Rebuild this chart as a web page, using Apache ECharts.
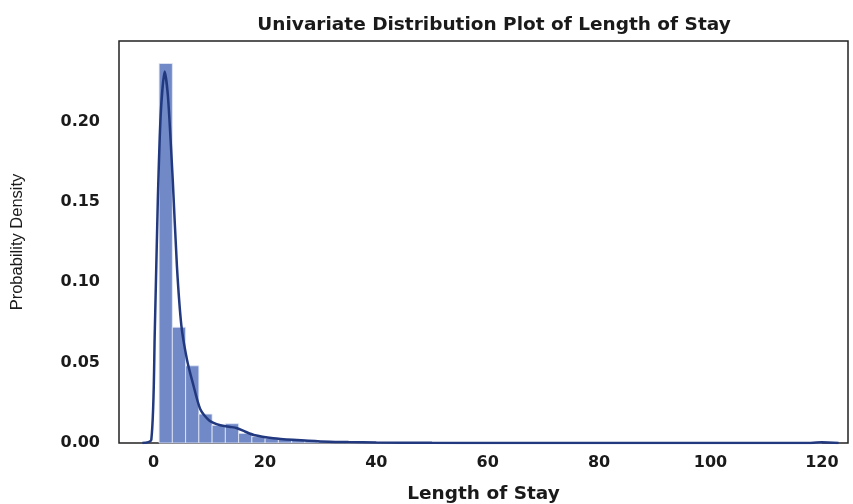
<!DOCTYPE html>
<html>
<head>
<meta charset="utf-8">
<script src="https://cdn.jsdelivr.net/npm/echarts@6/dist/echarts.min.js"></script>
<style>
  html, body { margin: 0; padding: 0; background: #fff; }
  #chart { width: 853px; height: 504px; }
</style>
</head>
<body>
<div id="chart"></div>
<script>
// histogram: 50 bins between the smallest and largest stay
const binLow = 1;
const binHigh = 120;
const densities = [
  0.236, 0.072, 0.048, 0.018, 0.011, 0.012, 0.006, 0.004, 0.003, 0.0025,
  0.002, 0.0015, 0.0012, 0.0009, 0.0007, 0.0005, 0.0004, 0.0003, 0.0002, 0.0002,
  0.0001, 0.0001, 0.0001, 0, 0, 0, 0, 0, 0, 0,
  0, 0, 0, 0, 0, 0, 0, 0, 0, 0,
  0, 0, 0, 0, 0, 0, 0, 0, 0, 0.0003
];

// kde curve
const kdeX = [-2, -0.4, 0.23, 0.77, 1.3, 2.0, 2.6, 3.46, 4.2, 5.0, 6.0, 7.0, 8.4, 10, 12,
  13.8, 15, 16.5, 18, 21.5, 25, 30, 35, 40, 50, 60, 80, 100, 117, 120, 123];
const kdeY = [0, 0.002, 0.070, 0.151, 0.205, 0.231, 0.215, 0.163, 0.11, 0.073, 0.052, 0.038, 0.021, 0.014, 0.011,
  0.0100, 0.0092, 0.007, 0.005, 0.003, 0.002, 0.001, 0.0006, 0.0003, 0.0001, 0.00005, 0, 0, 0, 0.0004, 0];

const xTicks = [0, 20, 40, 60, 80, 100, 120];
const yTicks = [0, 0.05, 0.10, 0.15, 0.20];

const binWidth = (binHigh - binLow) / densities.length;
const bins = densities.map((d, i) => [binLow + i * binWidth, binLow + (i + 1) * binWidth, d]);
const kde = kdeX.map((x, i) => [x, kdeY[i]]);

const chart = echarts.init(document.getElementById('chart'));

const option = {
  animation: false,
  title: {
    text: 'Univariate Distribution Plot of Length of Stay',
    left: 489,
    top: 11,
    textAlign: 'center',
    textStyle: { fontFamily: 'DejaVu Sans', fontSize: 18.5, fontWeight: 'bold', color: '#1a1a1a' }
  },
  grid: {
    left: 119, right: 5, top: 41, bottom: 61,
    outerBoundsMode: 'none',
    show: true, borderColor: '#222', borderWidth: 1.5
  },
  xAxis: {
    type: 'value',
    min: -6.2,
    max: 124.7,
    name: 'Length of Stay',
    nameLocation: 'middle',
    nameGap: 42,
    nameTextStyle: { fontFamily: 'DejaVu Sans', fontSize: 18.5, fontWeight: 'bold', color: '#1a1a1a' },
    axisLine: { show: false },
    axisTick: { show: false },
    splitLine: { show: false },
    axisLabel: {
      customValues: xTicks,
      margin: 12,
      fontFamily: 'DejaVu Sans', fontSize: 16, fontWeight: 'bold', color: '#1a1a1a'
    }
  },
  yAxis: {
    type: 'value',
    min: 0,
    max: 0.25,
    name: 'Probability Density',
    nameLocation: 'middle',
    nameGap: 93,
    nameTextStyle: { fontFamily: 'Liberation Sans', fontSize: 16.5, color: '#1a1a1a' },
    axisLine: { show: false },
    axisTick: { show: false },
    splitLine: { show: false },
    axisLabel: {
      customValues: yTicks,
      margin: 19,
      formatter: (v) => v.toFixed(2),
      fontFamily: 'DejaVu Sans', fontSize: 16, fontWeight: 'bold', color: '#1a1a1a'
    }
  },
  series: [
    {
      type: 'custom',
      data: bins,
      encode: { x: [0, 1], y: 2 },
      renderItem: (params, api) => {
        const p0 = api.coord([api.value(0), 0]);
        const p1 = api.coord([api.value(1), api.value(2)]);
        return {
          type: 'rect',
          shape: { x: p0[0], y: p1[1], width: p1[0] - p0[0], height: p0[1] - p1[1] },
          style: { fill: '#7189c7', stroke: '#e4eaf6', lineWidth: 0.8 }
        };
      }
    },
    {
      type: 'line',
      data: kde,
      smooth: 0.25,
      symbol: 'none',
      lineStyle: { color: '#22397f', width: 2.5 }
    }
  ]
};

chart.setOption(option);
</script>
</body>
</html>
